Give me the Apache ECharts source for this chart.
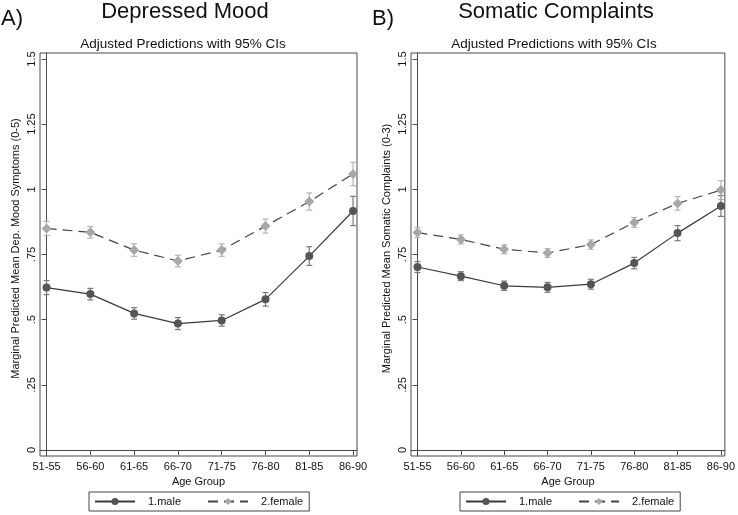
<!DOCTYPE html>
<html>
<head>
<meta charset="utf-8">
<script src="https://cdn.jsdelivr.net/npm/echarts@6/dist/echarts.min.js"></script>
<style>html,body{margin:0;padding:0;background:#fff;}#c{width:738px;height:515px;}</style>
</head>
<body>
<div id="c"></div>
<script>
const categories = ['51-55','56-60','61-65','66-70','71-75','76-80','81-85','86-90'];
const depMale = [0.623,0.598,0.524,0.485,0.497,0.578,0.744,0.917];
const depMaleCI = [0.027,0.022,0.022,0.023,0.022,0.026,0.036,0.056];
const depFemale = [0.850,0.835,0.767,0.725,0.767,0.859,0.953,1.059];
const depFemaleCI = [0.027,0.022,0.024,0.022,0.024,0.027,0.033,0.045];
const somMale = [0.702,0.667,0.630,0.624,0.636,0.717,0.832,0.936];
const somMaleCI = [0.021,0.017,0.018,0.019,0.019,0.022,0.029,0.040];
const somFemale = [0.834,0.808,0.770,0.756,0.788,0.873,0.946,0.997];
const somFemaleCI = [0.019,0.017,0.017,0.017,0.018,0.019,0.026,0.036];
const yTicks = [0,0.25,0.5,0.75,1,1.25,1.5];
const seriesNames = ['1.male','2.female'];
const panelLetters = ['A)','B)'];
const panelTitles = ['Depressed Mood','Somatic Complaints'];
const subTitle = 'Adjusted Predictions with 95% CIs';
const yNames = ['Marginal Predicted Mean Dep. Mood Symptoms (0-5)','Marginal Predicted Mean Somatic Complaints (0-3)'];
const xName = 'Age Group';

const FONT = 'Liberation Sans, Arial, sans-serif';
const AX = '#4a4a4a';
const panelLeft = [40, 411];
const gridW = 317;

function pts(vals){ return vals.map((v,i)=>[i,v]); }
function ciData(vals, ci){ return vals.map((v,i)=>[i, v-ci[i], v+ci[i]]); }
function fmtY(v){ if (v===0) return '0'; if (v===1) return '1'; return String(v).replace(/^0/,''); }

function errSeries(idx, data, color, name){
  return {
    type:'custom', name: name + ' CI', xAxisIndex: idx, yAxisIndex: idx, z: 1, silent: true,
    data: data,
    renderItem: function(params, api){
      const x = api.value(0);
      const lo = api.coord([x, api.value(1)]);
      const hi = api.coord([x, api.value(2)]);
      const w = 3;
      const st = {stroke: color, lineWidth: 1.2};
      return {type:'group', children:[
        {type:'line', shape:{x1:lo[0], y1:lo[1], x2:hi[0], y2:hi[1]}, style: st},
        {type:'line', shape:{x1:lo[0]-w, y1:lo[1], x2:lo[0]+w, y2:lo[1]}, style: st},
        {type:'line', shape:{x1:hi[0]-w, y1:hi[1], x2:hi[0]+w, y2:hi[1]}, style: st}
      ]};
    }
  };
}

const grids = [], xAxes = [], yAxes = [], series = [], titles = [], legends = [];
const panels = [
  {male: depMale, maleCI: depMaleCI, female: depFemale, femaleCI: depFemaleCI},
  {male: somMale, maleCI: somMaleCI, female: somFemale, femaleCI: somFemaleCI}
];
panels.forEach((p, k) => {
  const L = panelLeft[k];
  const off = k * 371;
  grids.push({left: L, top: 53, width: gridW, height: 403, show: true, borderColor: AX, borderWidth: 1, containLabel: false});
  xAxes.push({
    type:'value', gridIndex:k, min:-0.15, max:7.09,
    name: xName, nameLocation:'middle', nameGap: 20,
    nameTextStyle:{fontFamily:FONT, fontSize:11, color:'#111'},
    axisLine:{show:true, lineStyle:{color:AX}},
    axisTick:{show:true, length:5, inside:false, lineStyle:{color:AX}, customValues:[0,1,2,3,4,5,6,7]},
    axisLabel:{fontFamily:FONT, fontSize:11, color:'#111', margin:5, customValues:[0,1,2,3,4,5,6,7], formatter: v => categories[Math.round(v)]},
    splitLine:{show:false}
  });
  yAxes.push({
    type:'value', gridIndex:k, min:-0.023, max:1.523,
    name: yNames[k], nameLocation:'middle', nameGap: 19, nameRotate: 90,
    nameTextStyle:{fontFamily:FONT, fontSize:11, color:'#111', padding:[0,0,0,12]},
    axisLine:{show:true, lineStyle:{color:AX}},
    axisTick:{show:true, length:5, lineStyle:{color:AX}, customValues: yTicks},
    axisLabel:{fontFamily:FONT, fontSize:11, color:'#111', rotate:90, margin:3, customValues: yTicks, formatter: fmtY},
    splitLine:{show:false}
  });
  series.push(errSeries(k, ciData(p.male, p.maleCI), '#7a7a7a', seriesNames[0]));
  series.push(errSeries(k, ciData(p.female, p.femaleCI), '#b4b4b4', seriesNames[1]));
  series.push({
    type:'line', name: seriesNames[0], xAxisIndex:k, yAxisIndex:k, z: 3,
    data: pts(p.male), symbol:'circle', symbolSize:8, showSymbol:true,
    lineStyle:{color:'#3a3a3a', width:1.2}, itemStyle:{color:'#555555'}, animation:false
  });
  series.push({
    type:'line', name: seriesNames[1], xAxisIndex:k, yAxisIndex:k, z: 3,
    data: pts(p.female), symbol:'diamond', symbolSize:10, showSymbol:true,
    lineStyle:{color:'#444444', width:1.2, type:[10,6]}, itemStyle:{color:'#a8a8a8'}, animation:false
  });
  titles.push({text: panelLetters[k], left: 1 + off, top: 8, padding:0, textStyle:{fontFamily:FONT, fontSize:22, fontWeight:'normal', color:'#111'}});
  titles.push({text: panelTitles[k], left: 185 + off, textAlign:'center', top: 1, padding:0, textStyle:{fontFamily:FONT, fontSize:22, fontWeight:'normal', color:'#111'}});
  titles.push({text: subTitle, left: 183 + off, textAlign:'center', top: 37, padding:0, textStyle:{fontFamily:FONT, fontSize:13.5, fontWeight:'normal', color:'#111'}});
  legends.push({
    data: seriesNames, left: 89 + off, top: 492,
    orient:'horizontal', itemWidth: 40, itemHeight: 9, itemGap: 26,
    padding:[4,6,4,5], borderColor:'#444', borderWidth:1,
    textStyle:{fontFamily:FONT, fontSize:11, color:'#111', padding:[0,0,0,8]},
    selectedMode:false
  });
});

const chart = echarts.init(document.getElementById('c'), null, {renderer:'canvas'});
chart.setOption({
  animation:false,
  backgroundColor:'#fff',
  title: titles,
  legend: legends,
  grid: grids,
  xAxis: xAxes,
  yAxis: yAxes,
  series: series
});
</script>
</body>
</html>
